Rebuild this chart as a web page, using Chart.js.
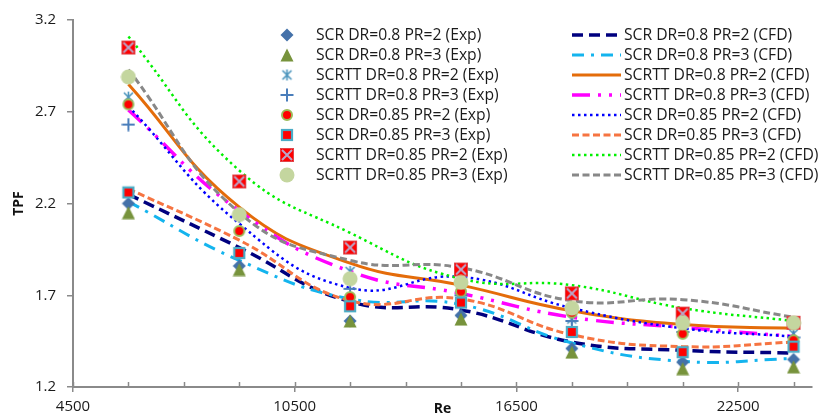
<!DOCTYPE html>
<html>
<head>
<meta charset="utf-8">
<script src="https://cdn.jsdelivr.net/npm/chart.js@4/dist/chart.umd.min.js"></script>
<style>
  html, body { margin: 0; padding: 0; background: #fff; }
  #wrap { width: 820px; height: 418px; }
</style>
</head>
<body>
<div id="wrap"><canvas id="c" width="820" height="418"></canvas></div>
<script>
// Reynolds numbers of the test points
const reValues = [6000, 9000, 12000, 15000, 18000, 21000, 24000];

// Experimental TPF
const expScr08Pr2   = [2.20, 1.86, 1.56, 1.59, 1.41, 1.335, 1.35];
const expScr08Pr3   = [2.15, 1.84, 1.56, 1.57, 1.39, 1.30, 1.31];
const expScrtt08Pr2 = [2.78, 2.14, 1.83, 1.71, 1.57, 1.52, 1.49];
const expScrtt08Pr3 = [2.63, 2.13, 1.735, 1.70, 1.56, 1.50, 1.47];
const expScr085Pr2  = [2.74, 2.05, 1.69, 1.72, 1.605, 1.49, 1.455];
const expScr085Pr3  = [2.26, 1.93, 1.64, 1.66, 1.50, 1.39, 1.42];
const expScrtt085Pr2 = [3.05, 2.32, 1.96, 1.84, 1.71, 1.60, 1.55];
const expScrtt085Pr3 = [2.89, 2.14, 1.79, 1.77, 1.63, 1.55, 1.55];

// CFD TPF
const cfdScr08Pr2   = [2.25, 1.96, 1.665, 1.62, 1.445, 1.40, 1.385];
const cfdScr08Pr3   = [2.21, 1.89, 1.68, 1.65, 1.44, 1.34, 1.355];
const cfdScrtt08Pr2 = [2.85, 2.18, 1.875, 1.755, 1.615, 1.54, 1.52];
const cfdScrtt08Pr3 = [2.71, 2.16, 1.83, 1.71, 1.58, 1.525, 1.475];
const cfdScr085Pr2  = [2.73, 2.09, 1.74, 1.80, 1.63, 1.52, 1.475];
const cfdScr085Pr3  = [2.28, 2.00, 1.67, 1.68, 1.485, 1.42, 1.445];
const cfdScrtt085Pr2 = [3.11, 2.38, 2.04, 1.79, 1.755, 1.63, 1.56];
const cfdScrtt085Pr3 = [2.93, 2.15, 1.89, 1.85, 1.67, 1.676, 1.58];

// Axis ticks
const yTicks = [1.2, 1.7, 2.2, 2.7, 3.2];
const xLabelTicks = [4500, 10500, 16500, 22500];
const xMinorTicks = [4500, 6000, 7500, 9000, 10500, 12000, 13500, 15000, 16500, 18000, 19500, 21000, 22500, 24000];
const xMin = 4500, xMax = 24500;

const pts = (ys) => reValues.map((x, i) => ({ x: x, y: ys[i] }));

// ---- marker glyphs ----
function glyph(size, draw) {
  const c = document.createElement('canvas');
  c.width = size; c.height = size;
  const g = c.getContext('2d');
  draw(g, size);
  return c;
}
const mkDiamond = glyph(14, (g) => {
  g.fillStyle = '#4471A9';
  g.beginPath(); g.moveTo(7, 0.5); g.lineTo(13.5, 7); g.lineTo(7, 13.5); g.lineTo(0.5, 7); g.closePath(); g.fill();
});
const mkTriangle = glyph(14, (g) => {
  g.fillStyle = '#77933C';
  g.beginPath(); g.moveTo(7, 0.5); g.lineTo(13.5, 13.5); g.lineTo(0.5, 13.5); g.closePath(); g.fill();
});
const mkAsterisk = glyph(13, (g) => {
  g.strokeStyle = '#4A94BC'; g.lineWidth = 1.6;
  g.beginPath();
  g.moveTo(2, 2); g.lineTo(11, 11);
  g.moveTo(11, 2); g.lineTo(2, 11);
  g.moveTo(6.5, 1); g.lineTo(6.5, 12);
  g.stroke();
});
const mkPlus = glyph(14, (g) => {
  g.strokeStyle = '#4A7EBB'; g.lineWidth = 2;
  g.beginPath();
  g.moveTo(7, 0.5); g.lineTo(7, 13.5);
  g.moveTo(0.5, 7); g.lineTo(13.5, 7);
  g.stroke();
});
const mkRedDot = glyph(14, (g) => {
  g.fillStyle = '#FF0000'; g.strokeStyle = '#9BBB59'; g.lineWidth = 2;
  g.beginPath(); g.arc(7, 7, 5, 0, Math.PI * 2); g.fill(); g.stroke();
});
const mkRedSquare = glyph(14, (g) => {
  g.fillStyle = '#FF0000'; g.strokeStyle = '#4BACC6'; g.lineWidth = 2.2;
  g.fillRect(2, 2, 10, 10); g.strokeRect(2, 2, 10, 10);
});
const mkCrossSquare = glyph(16, (g) => {
  g.fillStyle = '#FF0000'; g.fillRect(1, 1, 14, 14);
  g.strokeStyle = '#E0454A'; g.lineWidth = 1; g.strokeRect(1.5, 1.5, 13, 13);
  g.strokeStyle = '#B9A7C9'; g.lineWidth = 2;
  g.beginPath(); g.moveTo(3, 3); g.lineTo(13, 13); g.moveTo(13, 3); g.lineTo(3, 13); g.stroke();
});
const mkPaleDot = glyph(16, (g) => {
  g.fillStyle = '#C4D69F';
  g.beginPath(); g.arc(8, 8, 7.5, 0, Math.PI * 2); g.fill();
});

function expSet(label, ys, marker, order) {
  return { label, data: pts(ys), showLine: false, pointStyle: marker, pointRadius: 7,
           pointHoverRadius: 7, order: order, kind: 'exp' };
}
function cfdSet(label, ys, color, width, dash, order) {
  return { label, data: pts(ys), showLine: true, borderColor: color, backgroundColor: color,
           borderWidth: width, borderDash: dash, borderCapStyle: 'butt',
           pointRadius: 0, pointHoverRadius: 0, tension: 0.45, fill: false, order: order, kind: 'cfd' };
}

const datasets = [
  expSet('SCR DR=0.8 PR=2 (Exp)', expScr08Pr2, mkDiamond, 8),
  expSet('SCR DR=0.8 PR=3 (Exp)', expScr08Pr3, mkTriangle, 7),
  expSet('SCRTT DR=0.8 PR=2 (Exp)', expScrtt08Pr2, mkAsterisk, 6),
  expSet('SCRTT DR=0.8 PR=3 (Exp)', expScrtt08Pr3, mkPlus, 5),
  expSet('SCR DR=0.85 PR=2 (Exp)', expScr085Pr2, mkRedDot, 4),
  expSet('SCR DR=0.85 PR=3 (Exp)', expScr085Pr3, mkRedSquare, 3),
  expSet('SCRTT DR=0.85 PR=2 (Exp)', expScrtt085Pr2, mkCrossSquare, 2),
  expSet('SCRTT DR=0.85 PR=3 (Exp)', expScrtt085Pr3, mkPaleDot, 1),
  cfdSet('SCR DR=0.8 PR=2 (CFD)', cfdScr08Pr2, '#00007F', 3.5, [11, 6], 20),
  cfdSet('SCR DR=0.8 PR=3 (CFD)', cfdScr08Pr3, '#14B4EE', 3, [12, 7, 3, 7], 19),
  cfdSet('SCRTT DR=0.8 PR=2 (CFD)', cfdScrtt08Pr2, '#E46C0A', 3, [], 18),
  cfdSet('SCRTT DR=0.8 PR=3 (CFD)', cfdScrtt08Pr3, '#FF00FF', 3.5, [18, 8, 3, 8, 3, 8], 17),
  cfdSet('SCR DR=0.85 PR=2 (CFD)', cfdScr085Pr2, '#0000FF', 2.5, [2.5, 3.5], 16),
  cfdSet('SCR DR=0.85 PR=3 (CFD)', cfdScr085Pr3, '#F67441', 3, [7, 3.5], 15),
  cfdSet('SCRTT DR=0.85 PR=2 (CFD)', cfdScrtt085Pr2, '#00F000', 2.5, [2.5, 3.5], 14),
  cfdSet('SCRTT DR=0.85 PR=3 (CFD)', cfdScrtt085Pr3, '#888888', 3, [7, 3.5], 13)
];

const AXIS_COLOR = '#8A8A8A';
const FONT = '"Open Sans", "DejaVu Sans", sans-serif';

// Inward tick marks on the Re axis
const innerTicks = {
  id: 'innerTicks',
  afterDraw(chart) {
    const sx = chart.scales.x, ctx = chart.ctx;
    ctx.save();
    ctx.strokeStyle = AXIS_COLOR; ctx.lineWidth = 1.5;
    sx.ticks.forEach(t => {
      const px = Math.round(sx.getPixelForValue(t.value)) + 0.5;
      ctx.beginPath(); ctx.moveTo(px, sx.top); ctx.lineTo(px, sx.top - 5); ctx.stroke();
    });
    ctx.restore();
  }
};

// Two-column key: markers on the left, line samples on the right
const twoColumnKey = {
  id: 'twoColumnKey',
  afterDraw(chart) {
    const ctx = chart.ctx;
    const exp = chart.data.datasets.filter(d => d.kind === 'exp');
    const cfd = chart.data.datasets.filter(d => d.kind === 'cfd');
    const top = 35, step = 20;
    ctx.save();
    ctx.font = '15.7px ' + FONT;
    ctx.fillStyle = '#1A1A1A';
    ctx.textBaseline = 'middle';
    exp.forEach((d, i) => {
      const y = top + i * step;
      const m = d.pointStyle;
      ctx.drawImage(m, 287 - m.width / 2, y - m.height / 2);
      ctx.fillText(d.label, 316, y + 1);
    });
    cfd.forEach((d, i) => {
      const y = top + i * step;
      ctx.save();
      ctx.strokeStyle = d.borderColor; ctx.lineWidth = d.borderWidth;
      ctx.setLineDash(d.borderDash); ctx.lineCap = d.borderCapStyle;
      ctx.beginPath(); ctx.moveTo(572, y); ctx.lineTo(621, y); ctx.stroke();
      ctx.restore();
      ctx.fillText(d.label, 624, y + 1);
    });
    ctx.restore();
  }
};

new Chart(document.getElementById('c'), {
  type: 'scatter',
  data: { datasets },
  options: {
    responsive: false,
    animation: false,
    devicePixelRatio: 1,
    layout: { padding: { top: 17, right: 7, left: 0, bottom: 0 } },
    plugins: { legend: { display: false }, tooltip: { enabled: false } },
    scales: {
      x: {
        type: 'linear', min: xMin, max: xMax,
        afterBuildTicks(scale) { scale.ticks = xMinorTicks.map(v => ({ value: v })); },
        afterFit(scale) { scale.height = 31; },
        ticks: {
          autoSkip: false, maxRotation: 0, padding: 6,
          color: '#1A1A1A', font: { family: FONT, size: 15 },
          callback: (v) => xLabelTicks.includes(v) ? String(v) : ''
        },
        grid: {
          drawOnChartArea: false, tickLength: 5, lineWidth: 1.5,
          color: (c) => (c.tick && xLabelTicks.includes(c.tick.value)) ? AXIS_COLOR : 'rgba(0,0,0,0)'
        },
        border: { color: AXIS_COLOR, width: 2 },
        title: { display: true, text: 'Re', color: '#111', padding: { top: 0, bottom: 1 },
                 font: { family: FONT, size: 14, weight: 'bold' } }
      },
      y: {
        type: 'linear', min: 1.2, max: 3.2,
        afterBuildTicks(scale) { scale.ticks = yTicks.map(v => ({ value: v })); },
        afterFit(scale) { scale.width = 73; },
        ticks: {
          padding: 11, color: '#1A1A1A', font: { family: FONT, size: 15 },
          callback: (v) => Number(v).toFixed(1)
        },
        grid: { drawOnChartArea: false, tickLength: 6, lineWidth: 1.5, color: AXIS_COLOR },
        border: { color: AXIS_COLOR, width: 2 },
        title: { display: true, text: 'TPF', color: '#111', padding: { top: 11, bottom: 0 },
                 font: { family: FONT, size: 14, weight: 'bold' } }
      }
    }
  },
  plugins: [innerTicks, twoColumnKey]
});
</script>
</body>
</html>
